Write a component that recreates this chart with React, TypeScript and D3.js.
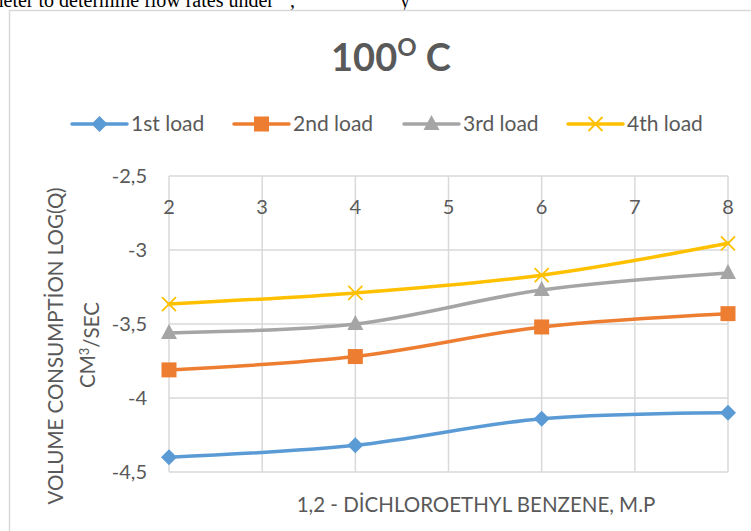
import React, { useEffect, useRef } from "react";
import * as d3 from "d3";

// x = 1,2-dichloroethyl benzene (M.P), y = log(Q)
const xValues = [2, 4, 6, 8];
const load1 = [-4.4, -4.32, -4.14, -4.1];
const load2 = [-3.81, -3.72, -3.52, -3.43];
const load3 = [-3.56, -3.5, -3.27, -3.155];
const load4 = [-3.365, -3.29, -3.17, -2.955];
const seriesNames = ["1st load", "2nd load", "3rd load", "4th load"];
const seriesColors = ["#5B9BD5", "#ED7D31", "#A5A5A5", "#FFC000"];
const markerKinds = ["diamond", "square", "triangle", "x"];
const xTicks = [2, 3, 4, 5, 6, 7, 8];
const yTicks = [-2.5, -3, -3.5, -4, -4.5];

const W = 751;
const H = 531;
const m = { top: 176, right: 23, bottom: 59, left: 169 };
const FONT = "Lato, 'Open Sans', sans-serif";
const TXT = "#595959";

const App = () => {
  const svgRef = useRef<SVGSVGElement | null>(null);

  useEffect(() => {
    const svg = d3.select(svgRef.current);
    svg.selectAll("*").remove();

    // bit of the paper text above the chart
    const serif = "'Liberation Serif', 'Times New Roman', serif";
    svg
      .append("text")
      .attr("x", -12)
      .attr("y", 7)
      .style("font-family", serif)
      .style("font-size", "20px")
      .style("fill", "#000")
      .text("meter to determine flow rates under");
    svg
      .append("text")
      .attr("x", 290)
      .attr("y", 7)
      .style("font-family", serif)
      .style("font-size", "20px")
      .text(",");
    svg
      .append("text")
      .attr("x", 400)
      .attr("y", 7)
      .style("font-family", serif)
      .style("font-size", "20px")
      .text("y");

    // chart frame
    svg
      .append("rect")
      .attr("x", 9.5)
      .attr("y", 10.5)
      .attr("width", W + 20)
      .attr("height", H + 20)
      .attr("fill", "#fff")
      .attr("stroke", "#d9d9d9")
      .attr("stroke-width", 1.5);

    const x = d3.scaleLinear().domain([2, 8]).range([m.left, W - m.right]);
    const y = d3.scaleLinear().domain([-4.5, -2.5]).range([H - m.bottom, m.top]);

    // grid
    const grid = svg.append("g");
    grid
      .selectAll(".hg")
      .data(yTicks)
      .enter()
      .append("line")
      .attr("x1", x(2))
      .attr("x2", x(8))
      .attr("y1", (d) => y(d))
      .attr("y2", (d) => y(d))
      .attr("stroke", "#d9d9d9")
      .attr("stroke-width", 1.5);
    grid
      .selectAll(".vg")
      .data(xTicks)
      .enter()
      .append("line")
      .attr("x1", (d) => x(d))
      .attr("x2", (d) => x(d))
      .attr("y1", y(-2.5))
      .attr("y2", y(-4.5))
      .attr("stroke", "#d9d9d9")
      .attr("stroke-width", 1.5);

    // y tick labels, decimal comma and plain hyphen
    svg
      .append("g")
      .selectAll("text")
      .data(yTicks)
      .enter()
      .append("text")
      .attr("x", m.left - 22)
      .attr("y", (d) => y(d))
      .attr("dy", "0.35em")
      .attr("text-anchor", "end")
      .style("font-family", FONT)
      .style("font-size", "20px")
      .style("fill", TXT)
      .text((d) => String(d).replace(".", ","));

    // x tick labels (sit just under the top line)
    svg
      .append("g")
      .selectAll("text")
      .data(xTicks)
      .enter()
      .append("text")
      .attr("x", (d) => x(d))
      .attr("y", y(-2.5) + 31)
      .attr("dy", "0.35em")
      .attr("text-anchor", "middle")
      .style("font-family", FONT)
      .style("font-size", "20px")
      .style("fill", TXT)
      .text((d) => d);

    const line = d3
      .line<number>()
      .x((d, i) => x(xValues[i]))
      .y((d) => y(d))
      .curve(d3.curveCatmullRom.alpha(0.5));

    const allSeries = [load1, load2, load3, load4];

    const drawMarker = (g, kind: string, cx: number, cy: number, color: string) => {
      if (kind === "diamond") {
        g.append("path")
          .attr("d", `M${cx},${cy - 8}L${cx + 8},${cy}L${cx},${cy + 8}L${cx - 8},${cy}Z`)
          .attr("fill", color);
      } else if (kind === "square") {
        g.append("rect")
          .attr("x", cx - 7.5)
          .attr("y", cy - 7.5)
          .attr("width", 15)
          .attr("height", 15)
          .attr("fill", color);
      } else if (kind === "triangle") {
        g.append("path")
          .attr("d", `M${cx},${cy - 9}L${cx + 8},${cy + 6}L${cx - 8},${cy + 6}Z`)
          .attr("fill", color);
      } else {
        g.append("path")
          .attr("d", `M${cx - 7},${cy - 7}L${cx + 7},${cy + 7}M${cx + 7},${cy - 7}L${cx - 7},${cy + 7}`)
          .attr("stroke", color)
          .attr("stroke-width", 1.8)
          .attr("fill", "none");
      }
    };

    const plot = svg.append("g");
    allSeries.forEach((s, k) => {
      plot
        .append("path")
        .datum(s)
        .attr("d", line)
        .attr("fill", "none")
        .attr("stroke", seriesColors[k])
        .attr("stroke-width", 3.5)
        .attr("stroke-linecap", "round");
      s.forEach((v, i) => drawMarker(plot, markerKinds[k], x(xValues[i]), y(v), seriesColors[k]));
    });

    // title
    const title = svg
      .append("text")
      .attr("x", 391)
      .attr("y", 71)
      .attr("text-anchor", "middle")
      .style("font-family", FONT)
      .style("font-weight", "bold")
      .style("font-size", "38px")
      .style("fill", TXT);
    title.append("tspan").text("100");
    title.append("tspan").attr("dy", -15).style("font-size", "24px").text("O");
    title.append("tspan").attr("dy", 15).text(" C");

    // legend
    const legendX = [72, 234, 404, 568];
    const legend = svg.append("g");
    seriesNames.forEach((name, k) => {
      const lx = legendX[k];
      const ly = 124;
      legend
        .append("line")
        .attr("x1", lx)
        .attr("x2", lx + 55)
        .attr("y1", ly)
        .attr("y2", ly)
        .attr("stroke", seriesColors[k])
        .attr("stroke-width", 3.5)
        .attr("stroke-linecap", "round");
      drawMarker(legend, markerKinds[k], lx + 27.5, ly, seriesColors[k]);
      legend
        .append("text")
        .attr("x", lx + 59)
        .attr("y", ly)
        .attr("dy", "0.35em")
        .style("font-family", FONT)
        .style("font-size", "21px")
        .style("fill", TXT)
        .text(name);
    });

    // axis titles
    const yt = svg
      .append("text")
      .attr("transform", `translate(56, 346) rotate(-90)`)
      .attr("text-anchor", "middle")
      .style("font-family", FONT)
      .style("font-size", "20.5px")
      .style("fill", TXT);
    yt.append("tspan").attr("x", 0).attr("dy", "0.35em").text("VOLUME CONSUMPTİON LOG(Q)");
    const yt2 = svg
      .append("text")
      .attr("transform", `translate(88, 345) rotate(-90)`)
      .attr("text-anchor", "middle")
      .style("font-family", FONT)
      .style("font-size", "20.5px")
      .style("fill", TXT);
    yt2.append("tspan").attr("dy", "0.35em").text("CM");
    yt2.append("tspan").attr("dy", "-0.45em").style("font-size", "13px").text("3");
    yt2.append("tspan").attr("dy", "0.45em").text("/SEC");

    svg
      .append("text")
      .attr("x", 476)
      .attr("y", 505)
      .attr("dy", "0.35em")
      .attr("text-anchor", "middle")
      .style("font-family", FONT)
      .style("font-size", "20.5px")
      .style("fill", TXT)
      .text("1,2 - DİCHLOROETHYL BENZENE, M.P");
  }, []);

  return (
    <svg
      ref={svgRef}
      width={W}
      height={H}
      style={{ position: "absolute", left: 0, top: 0, background: "#fff" }}
    ></svg>
  );
};

export default App;
